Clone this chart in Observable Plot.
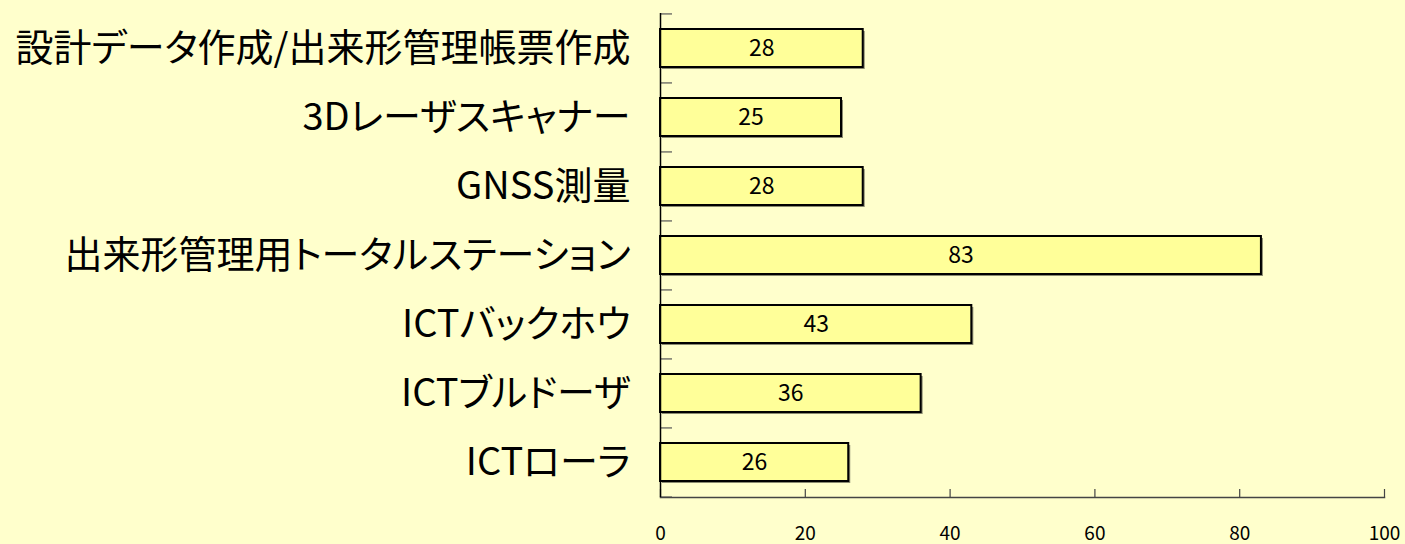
<!DOCTYPE html>
<html>
<head>
<meta charset="utf-8">
<script src="https://cdn.jsdelivr.net/npm/d3@7"></script>
<script src="https://cdn.jsdelivr.net/npm/@observablehq/plot@0.6"></script>
<style>
  html, body { margin: 0; padding: 0; background: #FFFFCC; }
  #chart svg { display: block; }
  #chart svg g[aria-label="y-axis tick label"] text { font-feature-settings: "palt"; }
</style>
</head>
<body>
<div id="chart"></div>
<script>
const categories = [
  "設計データ作成/出来形管理帳票作成",
  "3Dレーザスキャナー",
  "GNSS測量",
  "出来形管理用トータルステーション",
  "ICTバックホウ",
  "ICTブルドーザ",
  "ICTローラ"
];
const values = [28, 25, 28, 83, 43, 36, 26];
const xTicks = [0, 20, 40, 60, 80, 100];

const data = categories.map((c, i) => ({category: c, value: values[i]}));

const W = 1405, H = 544;
const mTop = 13, mBottom = 47, mLeft = 660, mRight = 21;
const innerH = H - mTop - mBottom;
const innerW = W - mLeft - mRight;
const step = innerH / categories.length;
const font = "'Noto Sans CJK JP', 'Noto Sans', sans-serif";

const chart = Plot.plot({
  width: W,
  height: H,
  marginTop: mTop,
  marginBottom: mBottom,
  marginLeft: mLeft,
  marginRight: mRight,
  style: {background: "#FFFFCC", fontFamily: font, color: "#000", overflow: "visible"},
  x: {domain: [0, 100]},
  y: {domain: categories, paddingInner: 0.45, paddingOuter: 0.225},
  marks: [
    // category separator ticks (inside, at left)
    Plot.tickY(categories, {y: d => d, dy: -step / 2, stroke: "#555", strokeWidth: 1.2, insetRight: innerW - 12}),
    Plot.tickY([categories[categories.length - 1]], {y: d => d, dy: step / 2, stroke: "#555", strokeWidth: 1.2, insetRight: innerW - 12}),
    // bar shadows
    Plot.barX(data, {x: "value", y: "category", fill: "#8a8a70", dx: 2, dy: 2}),
    // bars
    Plot.barX(data, {x: "value", y: "category", fill: "#FFFF99", stroke: "#000", strokeWidth: 2}),
    // value labels
    Plot.text(data, {x: d => d.value / 2, y: "category", text: d => String(d.value), fontSize: 23, fill: "#000", fontFamily: font}),
    // x axis tick marks pointing inward
    Plot.ruleX(xTicks, {x: d => d, insetTop: innerH - 8, stroke: "#444", strokeWidth: 1.2}),
    // x axis line
    Plot.frame({anchor: "bottom", stroke: "#444", strokeWidth: 1.5}),
    Plot.axisX({ticks: xTicks, tickSize: 0, tickPadding: 29, fontSize: 19, fill: "#000", label: null, tickFormat: d => String(d)}),
    Plot.axisY({tickSize: 0, tickPadding: 30, fontSize: 38, fill: "#000", label: null}),
    // y axis line
    Plot.ruleX([0], {stroke: "#000", strokeWidth: 1.5})
  ]
});

document.getElementById("chart").appendChild(chart);
</script>
</body>
</html>
